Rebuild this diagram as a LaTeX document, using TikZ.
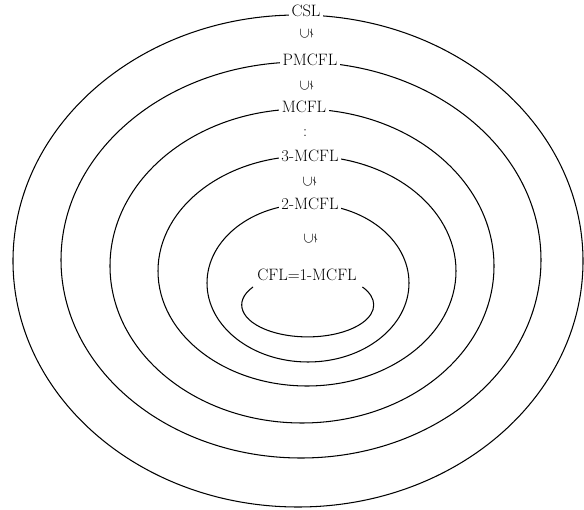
\documentclass[tikz,border=0pt]{standalone}
\usepackage{amssymb}
\usepackage{graphicx}
\begin{document}
\begin{tikzpicture}[x=1pt,y=-1pt,
  ring/.style={line width=1.05pt},
  lang/.style={fill=white,inner sep=2.5pt,anchor=base,font=\fontsize{16.5}{19}\selectfont},
  incl/.style={inner sep=0pt,font=\fontsize{15}{17}\selectfont}]
\useasboundingbox (0,0) rectangle (584,510);

% nested language classes
\draw[ring] (298,261) ellipse [x radius=285pt, y radius=246pt];
\draw[ring] (301,260) ellipse [x radius=240pt, y radius=198pt];
\draw[ring] (302,266) ellipse [x radius=192pt, y radius=157pt];
\draw[ring] (307,271) ellipse [x radius=149pt, y radius=115pt];
\draw[ring] (308,283) ellipse [x radius=101pt, y radius=79pt];

% innermost class, open at the top for its label
\coordinate (cflstart) at (253,287);
\draw[ring] (cflstart) arc [start angle=146, end angle=394, x radius=66pt, y radius=32pt];

% labels
\node[lang] (csl)   at (306,17)  {CSL};
\node[lang] (pmcfl) at (310,66)  {PMCFL};
\node[lang] (mcfl)  at (304,113) {MCFL};
\node[lang] (m3)    at (310,162) {3-MCFL};
\node[lang] (m2)    at (310,210) {2-MCFL};
\node[lang] (cfl)   at (307,281) {CFL=1-MCFL};

% proper inclusions between the classes
\node[incl] (s1) at (306,34)  {\rotatebox{90}{$\subsetneq$}};
\node[incl] (s2) at (306,86)  {\rotatebox{90}{$\subsetneq$}};
\node[inner sep=0pt,font=\fontsize{16}{19}\selectfont] (dots) at (305,133) {:};
\node[incl] (s3) at (309,182) {\rotatebox{90}{$\subsetneq$}};
\node[incl] (s4) at (310,239) {\rotatebox{90}{$\subsetneq$}};
\end{tikzpicture}
\end{document}
